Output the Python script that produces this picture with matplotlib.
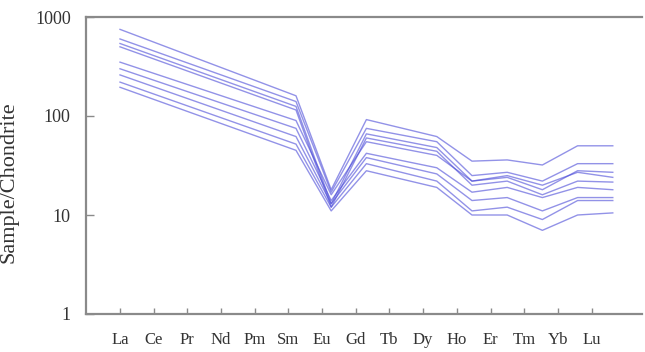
import numpy as np
import matplotlib
matplotlib.use("Agg")
import matplotlib.pyplot as plt

plt.rcParams['font.family'] = ['Liberation Serif', 'DejaVu Serif']

elements = ["La", "Ce", "Pr", "Nd", "Pm", "Sm", "Eu", "Gd", "Tb", "Dy",
            "Ho", "Er", "Tm", "Yb", "Lu"]
N = None
s1 = [750, N, N, N, N, 160, 18, 92, N, 62, 35, 36, 32, 50, 50]
s2 = [600, N, N, N, N, 140, 17, 75, N, 55, 25, 27, 22, 33, 33]
s3 = [540, N, N, N, N, 125, 13, 66, N, 48, 22, 24, 18, 28, 27]
s4 = [500, N, N, N, N, 115, 12, 60, N, 44, 20, 22, 16, 22, 21.5]
s5 = [350, N, N, N, N, 90, 16, 55, N, 40, 22, 25, 20, 27, 24]
s6 = [300, N, N, N, N, 75, 14, 42, N, 30, 17, 19, 15, 19, 18]
s7 = [260, N, N, N, N, 62, 13, 38, N, 26, 14, 15, 11, 15, 15]
s8 = [220, N, N, N, N, 52, 12, 33, N, 22, 11, 12, 9, 14, 14]
s9 = [195, N, N, N, N, 45, 11, 28, N, 19, 10, 10, 7, 10, 10.5]
series = [s1, s2, s3, s4, s5, s6, s7, s8, s9]
ytick_vals = [1, 10, 100, 1000]
ytick_labels = ["1", "10", "100", "1000"]

fig = plt.figure(figsize=(6.45, 3.52), dpi=100)
ax = fig.add_axes([86/645, 1 - 314/352, (642 - 86)/645, (314 - 17)/352])

for s in series:
    xs = [i for i, v in enumerate(s) if v is not None]
    ys = [v for v in s if v is not None]
    ax.plot(xs, ys, color='#4a4ad8', lw=1.0, alpha=0.6)

ax.set_yscale('log')
ax.set_ylim(1, 1000)
ax.set_xlim(-0.966, 14.83)
ax.set_yticks(ytick_vals)
ax.set_yticklabels(ytick_labels)
ax.yaxis.set_minor_locator(matplotlib.ticker.NullLocator())
ax.set_xticks(np.arange(len(elements)) * 0.957)
ax.set_xticklabels(elements)

for side in ['left', 'top', 'bottom']:
    ax.spines[side].set_color('#8a8a8a')
    ax.spines[side].set_linewidth(1.6)
ax.spines['right'].set_visible(False)

ax.tick_params(axis='y', direction='in', length=6, width=1, color='#8a8a8a',
               labelsize=13, pad=11, labelcolor='#333333')
ax.tick_params(axis='x', direction='in', length=4, width=1, color='#8a8a8a',
               labelsize=12, pad=13, labelcolor='#333333')
ax.set_ylabel("Sample/Chondrite", fontsize=16, color='#333333')
ax.yaxis.set_label_coords(-0.122, 0.444)

fig.savefig("out.png", dpi=100)
